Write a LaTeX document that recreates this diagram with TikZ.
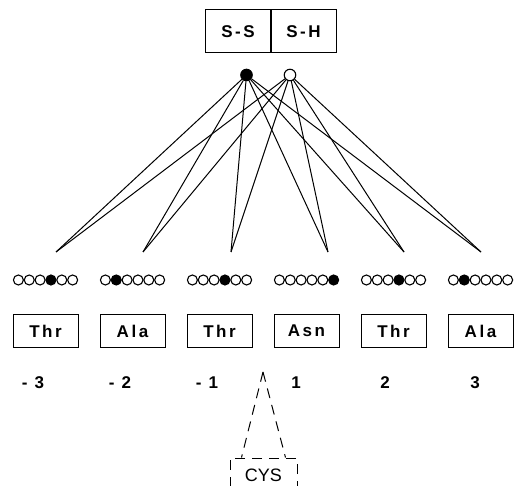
\documentclass[tikz,border=0pt]{standalone}
\usepackage{fontspec}
\setmainfont{Liberation Sans}
\usetikzlibrary{positioning}
\newcommand{\reslab}{\fontsize{17}{20}\selectfont\bfseries\addfontfeature{LetterSpace=15}}
\tikzset{
  bondbox/.style={draw,line width=1pt,minimum width=66pt,minimum height=43pt,inner sep=0pt,font=\reslab},
  resbox/.style={draw,line width=1pt,minimum width=65pt,minimum height=32pt,inner sep=0pt,font=\reslab},
  bead/.style={circle,draw,line width=1.1pt,minimum size=10pt,inner sep=0pt},
  poslab/.style={font=\reslab,inner sep=0pt},
  cysdash/.style={line width=1pt,dash pattern=on 10pt off 7pt}
}

\begin{document}
\begin{tikzpicture}[x=1pt,y=-1pt,line width=1pt]
  \useasboundingbox (0,0) rectangle (514,486);
  \clip (0,0) rectangle (514,486);
  % disulfide / thiol states
  \node[bondbox] (ss) at (238,31.5) {S-S};
  \node[bondbox] (sh) at (303.5,31.5) {S-H};
  \node[bead,minimum size=11.5pt,fill=black] (ssdot) at (246.5,75) {};
  \node[bead,minimum size=11.5pt,fill=white] (shdot) at (290,75) {};
  \foreach \x [count=\i] in {56,143,231,328,404,481}{
    \coordinate (tip\i) at (\x,252);
    \draw (ssdot) -- (tip\i);
    \draw (shdot) -- (tip\i);
  }
  % residues with bead strings and positions
  \foreach \res/\pos/\num/\nx [count=\i] in {Thr/4/- 3/33,Ala/2/- 2/120,Thr/4/- 1/207,Asn/6/1/296,Thr/4/2/385,Ala/2/3/475}{
    \pgfmathsetmacro\xc{45.5+87*(\i-1)}
    \node[resbox] (res\i) at (\xc,331) {\res};
    \foreach \j in {1,...,6}{
      \ifnum\j=\pos \def\bfill{black}\else\def\bfill{white}\fi
      \node[bead,fill=\bfill] (bead\i-\j) at ({\xc-27.1+10.85*(\j-1)},280) {};
    }
    \node[poslab] (num\i) at (\nx,383) {\num};
  }
  % cysteine insertion
  \coordinate (apex) at (263,372);
  \node[draw,cysdash,minimum width=67pt,minimum height=34pt,inner sep=0pt,font=\fontsize{18}{21}\selectfont] (cys) at (263.5,475) {CYS};
  \draw[cysdash] (apex) -- ([xshift=12pt]cys.north west);
  \draw[cysdash] (apex) -- ([xshift=-12pt]cys.north east);
\end{tikzpicture}
\end{document}
